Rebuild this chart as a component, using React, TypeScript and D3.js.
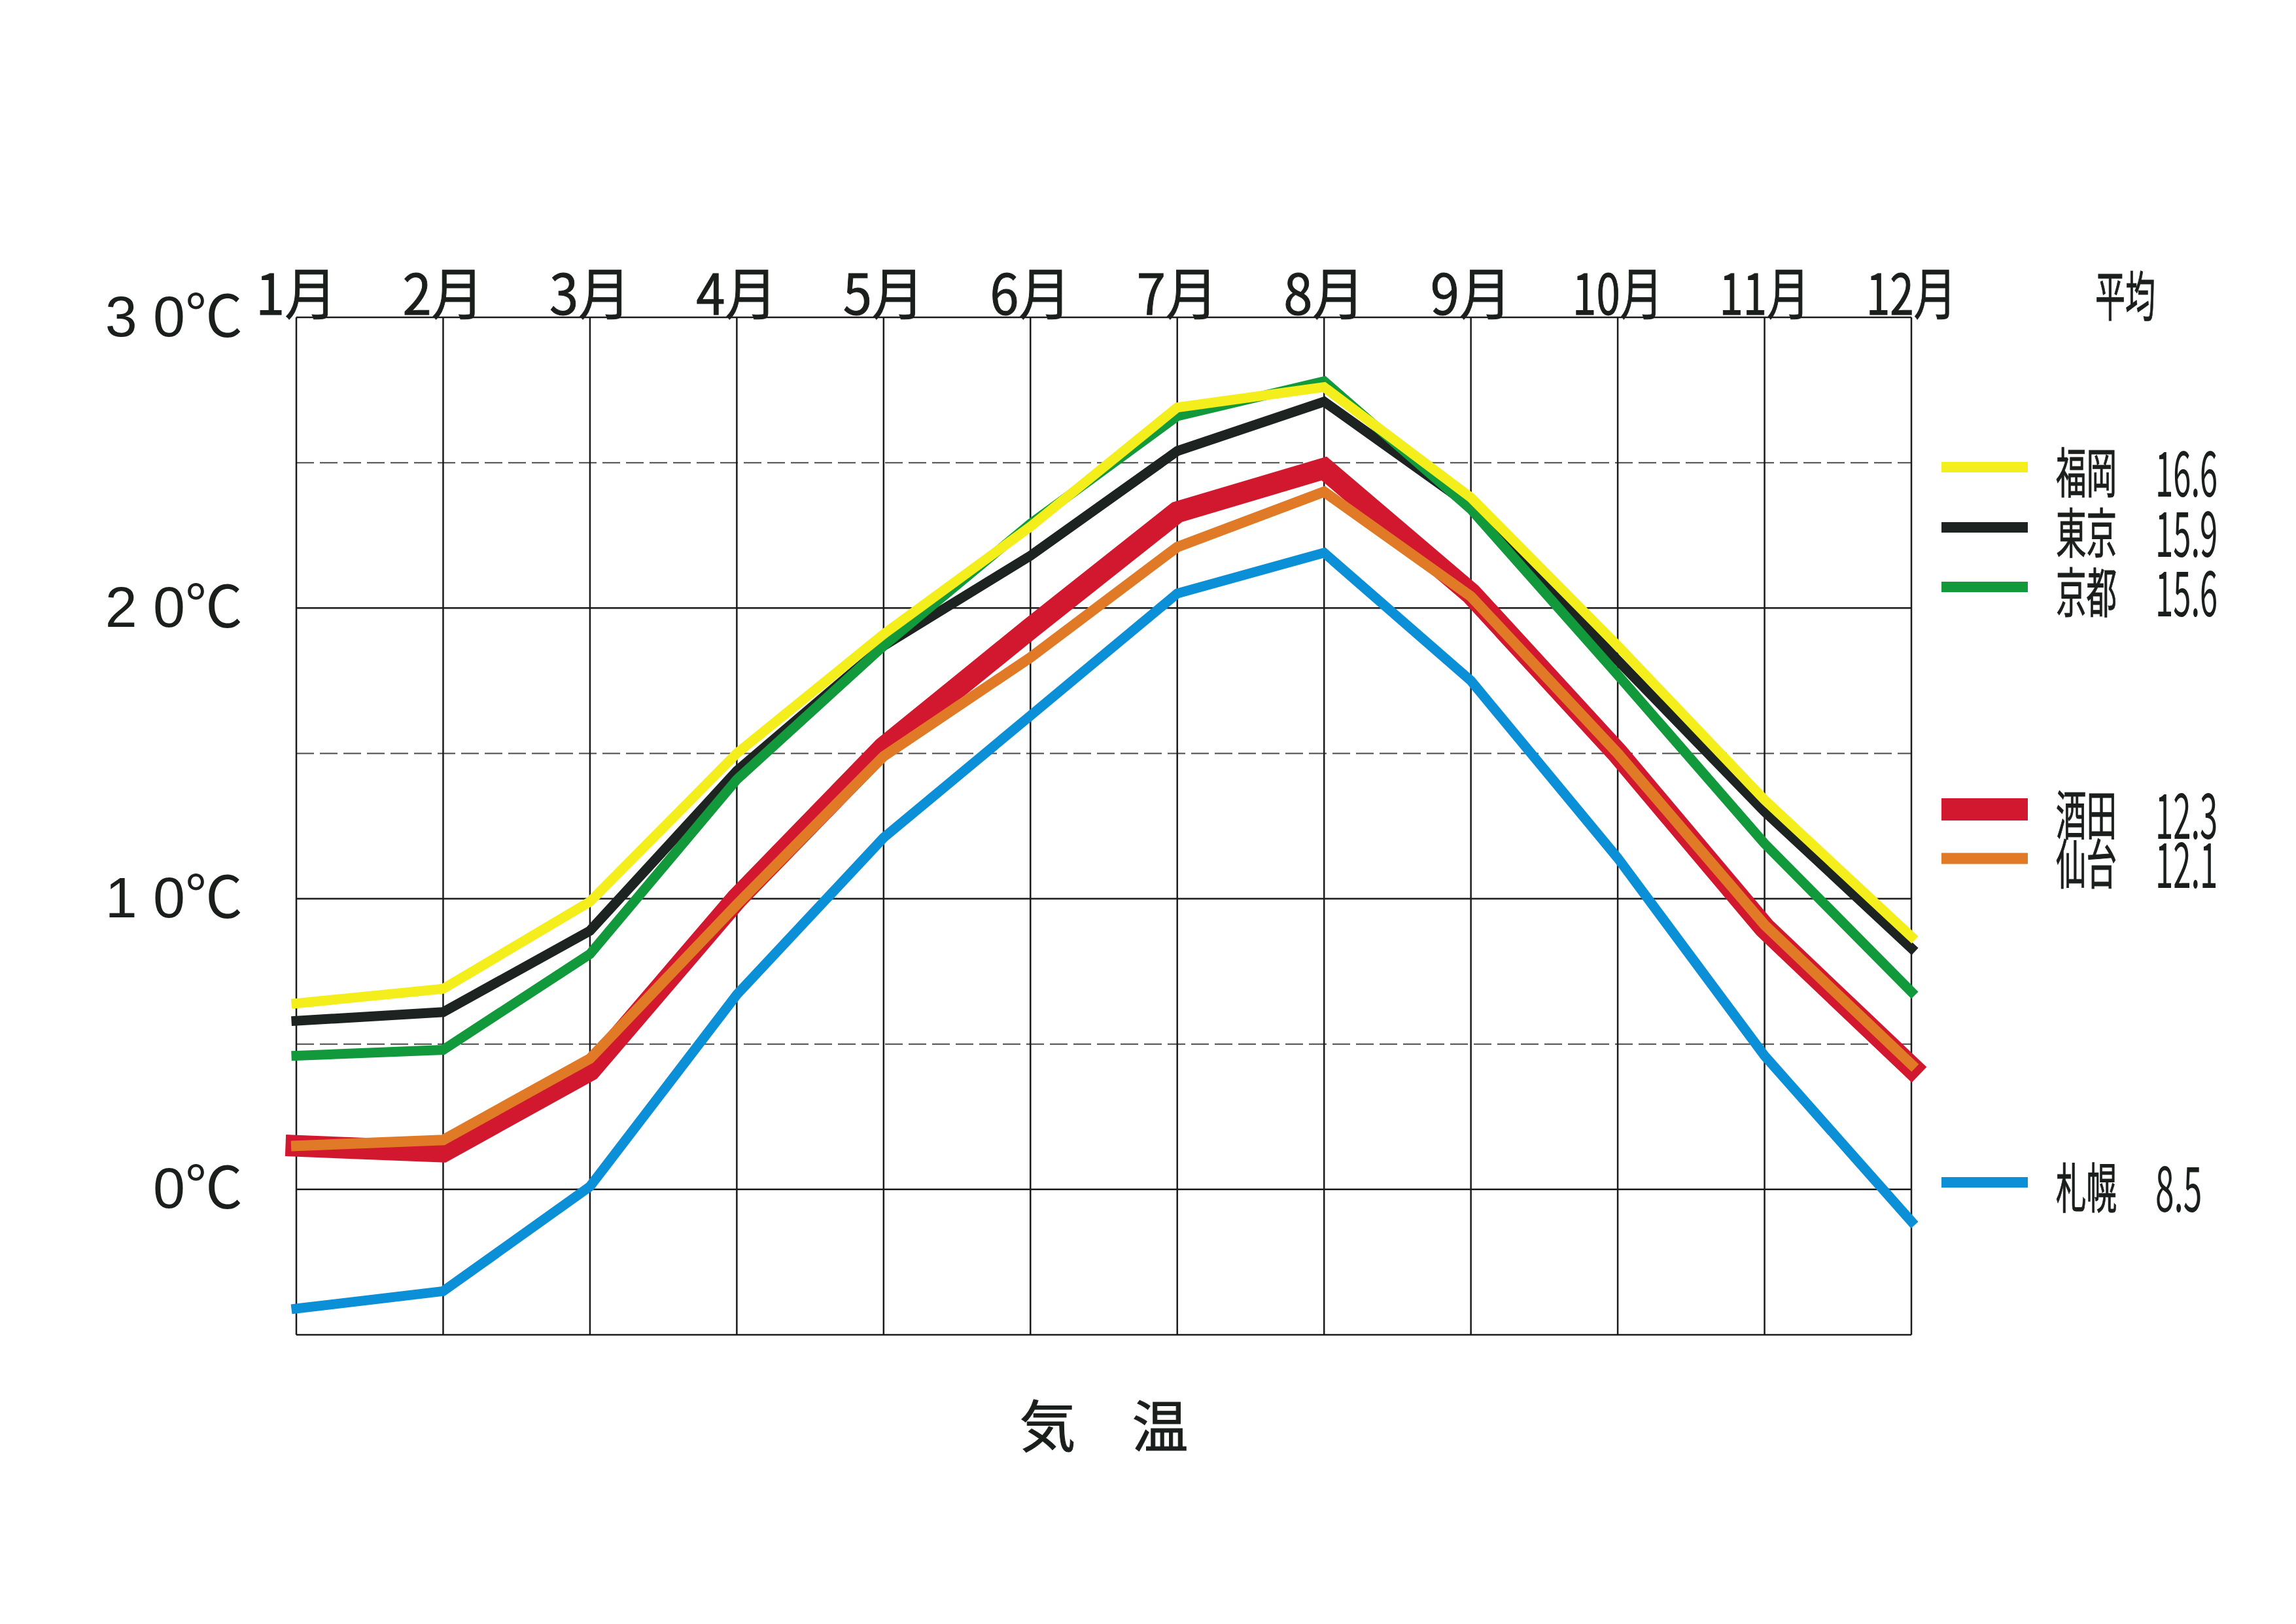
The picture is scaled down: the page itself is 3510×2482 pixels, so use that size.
import React, { useEffect } from 'react';
import * as d3 from 'd3';

// months along the top edge
const months = ['1月', '2月', '3月', '4月', '5月', '6月', '7月', '8月', '9月', '10月', '11月', '12月'];

// y ticks (solid lines) and dashed half steps
const yTickValues = [30, 20, 10, 0];
const yTickLabels = ['3 0℃', '2 0℃', '1 0℃', '0℃'];
const dashedValues = [25, 15, 5];

// monthly mean temperature per city
const fukuoka = [6.4, 6.9, 9.9, 15.0, 19.1, 22.8, 26.9, 27.6, 23.8, 18.7, 13.4, 8.7];
const tokyo = [5.8, 6.1, 8.9, 14.4, 18.7, 21.8, 25.4, 27.1, 23.5, 18.2, 13.0, 8.3];
const kyoto = [4.6, 4.8, 8.1, 14.1, 18.7, 22.9, 26.6, 27.8, 23.4, 17.7, 11.9, 6.8];
const sakata = [1.5, 1.3, 4.1, 10.0, 15.2, 19.3, 23.3, 24.8, 20.5, 15.0, 9.0, 4.2];
const sendai = [1.5, 1.7, 4.5, 9.8, 14.9, 18.3, 22.1, 24.0, 20.4, 15.0, 9.1, 4.3];
const sapporo = [-4.1, -3.5, 0.1, 6.7, 12.1, 16.3, 20.5, 21.9, 17.5, 11.4, 4.6, -1.1];

// legend: names and yearly averages
const cities = ['福岡', '東京', '京都', '酒田', '仙台', '札幌'];
const averages = ['16.6', '15.9', '15.6', '12.3', '12.1', '8.5'];

const seriesValues = [fukuoka, tokyo, kyoto, sakata, sendai, sapporo];

// styling per city (same order as cities)
const colors = ['#f4ef1c', '#1d2320', '#12993b', '#d2182e', '#e17a27', '#0b8fd7'];
const widths = [15, 15, 15, 33, 16, 15];
const legendY = [714, 806, 897, 1237, 1312, 1807];
// paint order: red, orange, blue, black, green, yellow
const drawOrder = [3, 4, 5, 1, 2, 0];

const W = 3510;
const H = 2482;

const App = () => {
  useEffect(() => {
    document.body.style.margin = '0';
  }, []);

  const x = d3.scalePoint<string>().domain(months).range([453, 2922]);
  const y = d3.scaleLinear().domain([-5, 30]).range([2040, 485]);

  const line = d3
    .line<number>()
    .x((_, i) => x(months[i]) ?? 0)
    .y(d => y(d));

  const [x0, x1] = x.range();
  const jp = '"Noto Sans CJK JP", sans-serif';
  const ink = '#1a1f1c';
  // a touch heavier than regular
  const medium = { fill: ink, stroke: ink, strokeWidth: 1, paintOrder: 'stroke' as const };

  return (
    <svg width={W} height={H} viewBox={`0 0 ${W} ${H}`} style={{ display: 'block', background: '#fff' }}>
      <rect x={0} y={0} width={W} height={H} fill="#fff" />

      {/* dashed half-step lines */}
      {dashedValues.map(v => (
        <line key={'d' + v} x1={x0} x2={x1} y1={y(v)} y2={y(v)} stroke="#4a4a4a" strokeWidth={2} strokeDasharray="27 9" />
      ))}

      {/* solid horizontal lines */}
      {[...yTickValues, -5].map(v => (
        <line key={'h' + v} x1={x0} x2={x1} y1={y(v)} y2={y(v)} stroke="#1a1a1a" strokeWidth={2.5} />
      ))}

      {/* month lines */}
      {months.map(m => (
        <line key={'v' + m} x1={x(m)} x2={x(m)} y1={y(30)} y2={y(-5)} stroke="#1a1a1a" strokeWidth={2.5} />
      ))}

      {/* series */}
      {drawOrder.map(i => (
        <path
          key={cities[i]}
          d={line(seriesValues[i]) ?? ''}
          fill="none"
          stroke={colors[i]}
          strokeWidth={widths[i]}
          strokeLinejoin="miter"
          strokeLinecap="square"
        />
      ))}

      {/* y labels */}
      {yTickValues.map((v, i) => (
        <text
          key={'yl' + v}
          x={371}
          y={y(v) - 2}
          textAnchor="end"
          dominantBaseline="central"
          fontFamily='"Liberation Sans", "Noto Sans CJK JP", sans-serif'
          fontSize={88}
          fill={ink}
        >
          {yTickLabels[i]}
        </text>
      ))}

      {/* month labels */}
      {months.map(m => (
        <text
          key={'ml' + m}
          x={(x(m) ?? 0) - (m.length > 2 ? 69 : 62)}
          y={443}
          dominantBaseline="central"
          fontFamily={jp}
          fontSize={86}
          textLength={m.length > 2 ? 138 : 124}
          lengthAdjust="spacingAndGlyphs"
          {...medium}
        >
          {m}
        </text>
      ))}

      {/* legend */}
      <text
        x={3203}
        y={447}
        dominantBaseline="central"
        fontFamily={jp}
        fontSize={82}
        textLength={92}
        lengthAdjust="spacingAndGlyphs"
        {...medium}
      >
        平均
      </text>
      {cities.map((c, i) => (
        <g key={'lg' + c}>
          <line x1={2968} x2={3100} y1={legendY[i]} y2={legendY[i]} stroke={colors[i]} strokeWidth={widths[i] + 1} />
          <text
            x={3143}
            y={legendY[i] + 3}
            dominantBaseline="central"
            fontFamily={jp}
            fontSize={82}
            textLength={93}
            lengthAdjust="spacingAndGlyphs"
            {...medium}
          >
            {c}
          </text>
          <text
            x={3295}
            y={legendY[i] + 3}
            dominantBaseline="central"
            fontFamily={jp}
            fontSize={96}
            textLength={averages[i].length * 23.8}
            lengthAdjust="spacingAndGlyphs"
            fill={ink}
          >
            {averages[i]}
          </text>
        </g>
      ))}

      {/* title */}
      <text
        x={(x0 + x1) / 2}
        y={2174}
        textAnchor="middle"
        dominantBaseline="central"
        fontFamily={jp}
        fontSize={86}
        {...medium}
      >
        気　温
      </text>
    </svg>
  );
};

export default App;
